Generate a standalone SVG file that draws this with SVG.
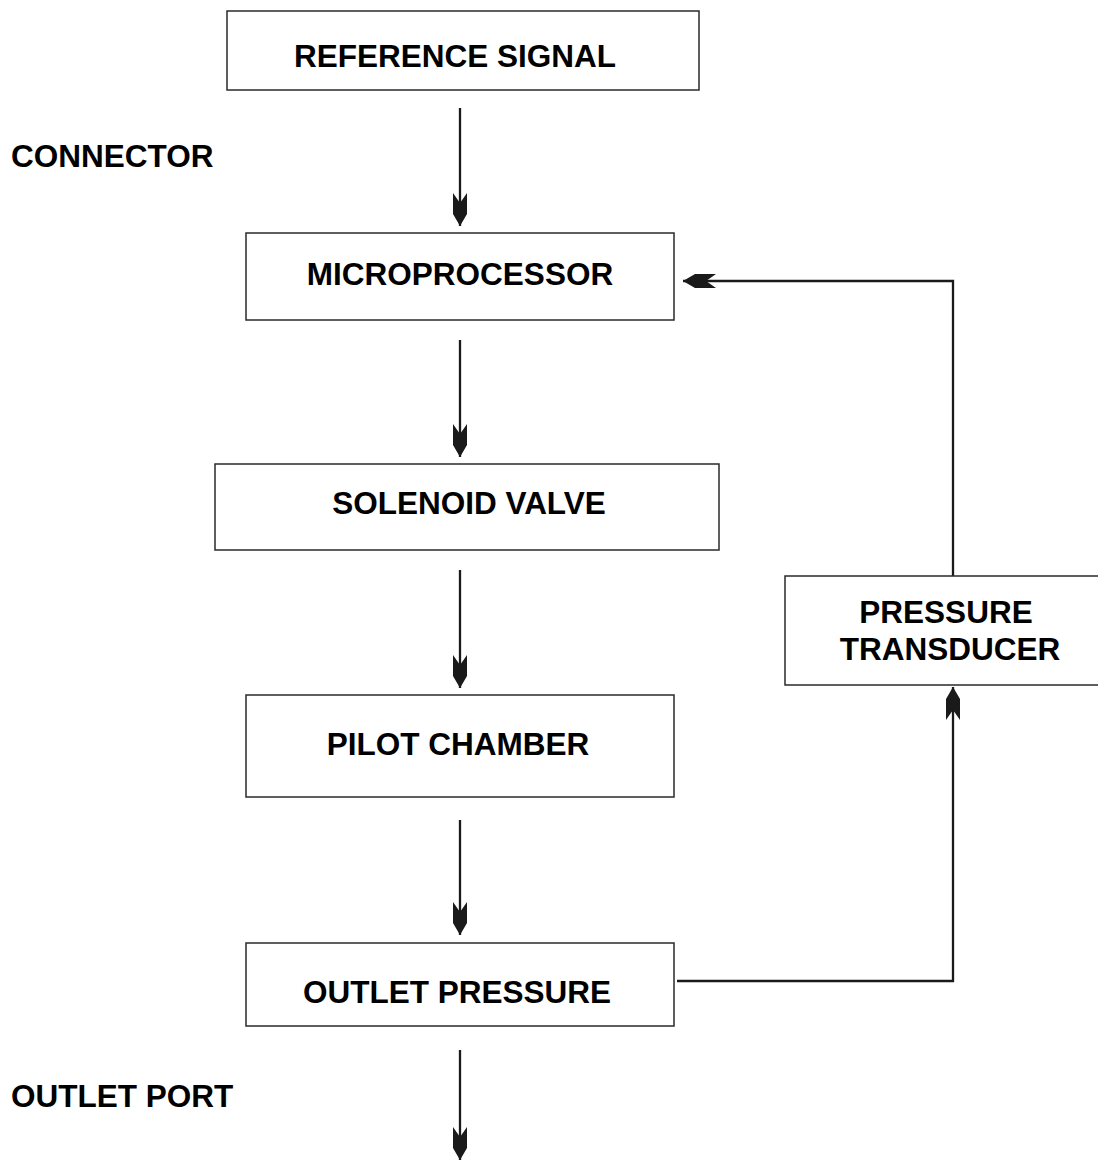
<svg xmlns="http://www.w3.org/2000/svg" width="1098" height="1162" viewBox="0 0 1098 1162">
<style>
.box{fill:#fff;stroke:#2a2a2a;stroke-width:1.5}
.t{font-family:"Liberation Sans",Arial,sans-serif;font-weight:bold;font-size:31.5px;fill:#000}
.c{text-anchor:middle}
.ln{fill:none;stroke:#1a1a1a;stroke-width:2.3}
</style>
<defs>
<marker id="ah" markerUnits="userSpaceOnUse" markerWidth="40" markerHeight="20" viewBox="-34 -10 40 20" refX="0" refY="0" orient="auto" overflow="visible">
<path d="M0,0 L-12,-7 L-33,-7 L-23,0 L-33,7 L-12,7 Z" fill="#1a1a1a"/>
</marker>
</defs>
<rect width="1098" height="1162" fill="#fff"/>
<g id="connectors">
<line class="ln" x1="460" y1="108" x2="460" y2="226" marker-end="url(#ah)"/>
<line class="ln" x1="460" y1="340" x2="460" y2="457" marker-end="url(#ah)"/>
<line class="ln" x1="460" y1="570" x2="460" y2="688" marker-end="url(#ah)"/>
<line class="ln" x1="460" y1="820" x2="460" y2="935" marker-end="url(#ah)"/>
<line class="ln" x1="460" y1="1050" x2="460" y2="1160" marker-end="url(#ah)"/>
<path class="ln" d="M677,981 H953 V687" marker-end="url(#ah)"/>
<path class="ln" d="M953,576 V281 H683" marker-end="url(#ah)"/>
</g>
<g id="reference-signal">
<rect class="box" x="227" y="11" width="472" height="79"/>
<text class="t c" x="455" y="67">REFERENCE SIGNAL</text>
</g>
<g id="connector-label">
<text class="t" x="11" y="167">CONNECTOR</text>
</g>
<g id="microprocessor">
<rect class="box" x="246" y="233" width="428" height="87"/>
<text class="t c" x="460" y="285">MICROPROCESSOR</text>
</g>
<g id="solenoid-valve">
<rect class="box" x="215" y="464" width="504" height="86"/>
<text class="t c" x="469" y="514">SOLENOID VALVE</text>
</g>
<g id="pilot-chamber">
<rect class="box" x="246" y="695" width="428" height="102"/>
<text class="t c" x="458" y="755">PILOT CHAMBER</text>
</g>
<g id="outlet-pressure">
<rect class="box" x="246" y="943" width="428" height="83"/>
<text class="t c" x="457" y="1003">OUTLET PRESSURE</text>
</g>
<g id="pressure-transducer">
<rect class="box" x="785" y="576" width="320" height="109"/>
<text class="t c" x="946" y="623">PRESSURE</text>
<text class="t c" x="950" y="660">TRANSDUCER</text>
</g>
<g id="outlet-port-label">
<text class="t" x="11" y="1107">OUTLET PORT</text>
</g>
</svg>
